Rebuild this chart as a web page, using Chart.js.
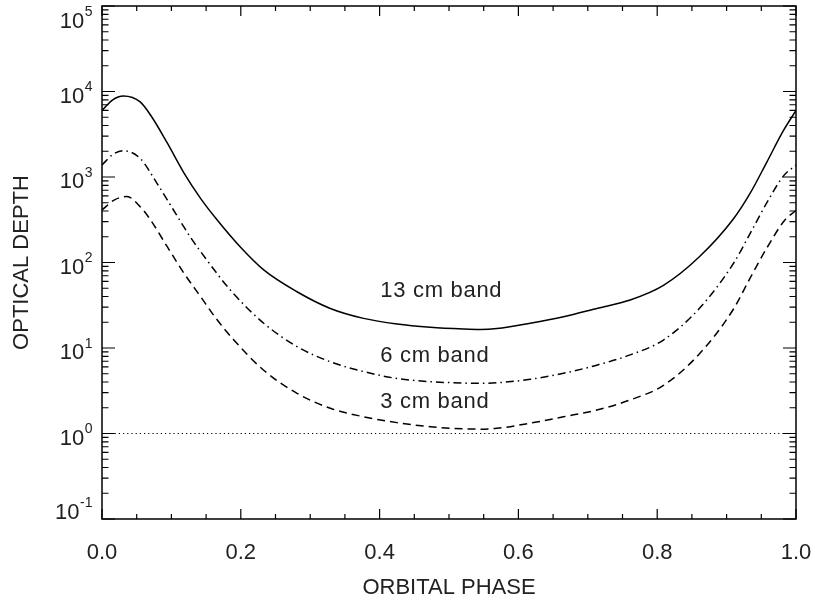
<!DOCTYPE html>
<html><head><meta charset="utf-8">
<script src="https://cdn.jsdelivr.net/npm/chart.js@4.4.1/dist/chart.umd.min.js"></script>
<style>html,body{margin:0;padding:0;background:#fff;}#wrap{width:815px;height:604px;}</style>
</head><body><div id="wrap"><canvas id="c" width="815" height="604"></canvas></div>
<script>
// ---- data ----
const band13Phase = [0, 0.015, 0.031, 0.055, 0.072, 0.094, 0.118, 0.142, 0.166, 0.199, 0.233, 0.281, 0.329, 0.377, 0.425, 0.473, 0.521, 0.545, 0.569, 0.617, 0.665, 0.713, 0.761, 0.809, 0.860, 0.910, 0.934, 0.958, 0.982, 1.0];
const band13 = [6000, 7950, 8850, 7550, 5000, 2500, 1120, 563, 314, 153, 82, 45.5, 29, 22.2, 19.1, 17.5, 16.7, 16.5, 16.9, 19.5, 23.2, 29, 36.4, 54, 115, 325, 647, 1496, 3500, 6000];

const band6Phase = [0, 0.015, 0.031, 0.055, 0.079, 0.103, 0.127, 0.151, 0.185, 0.233, 0.281, 0.329, 0.377, 0.425, 0.473, 0.521, 0.545, 0.569, 0.617, 0.665, 0.713, 0.761, 0.809, 0.860, 0.910, 0.934, 0.958, 0.982, 1.0];
const band6 = [1380, 1820, 2030, 1650, 850, 411, 200, 107, 47.6, 19.5, 10.4, 6.9, 5.3, 4.4, 4.04, 3.89, 3.86, 3.92, 4.3, 5.06, 6.3, 8.3, 12.4, 28.6, 98, 219, 500, 1030, 1380];

const band3Phase = [0, 0.018, 0.036, 0.055, 0.07, 0.094, 0.118, 0.142, 0.163, 0.19, 0.233, 0.281, 0.329, 0.377, 0.425, 0.473, 0.521, 0.545, 0.569, 0.617, 0.665, 0.713, 0.761, 0.809, 0.860, 0.910, 0.934, 0.958, 0.984, 1.0];
const band3 = [411, 540, 590, 450, 314, 153, 75, 40, 22.9, 12.4, 5.5, 2.95, 1.97, 1.57, 1.34, 1.2, 1.135, 1.125, 1.15, 1.32, 1.57, 1.88, 2.47, 3.65, 8.4, 28.6, 66, 148, 314, 405];

const unityPhase = [0, 1];
const unityValue = [1, 1];

const xTickValues = [0, 0.2, 0.4, 0.6, 0.8, 1.0];
const yTickValues = [0.1, 1, 10, 100, 1000, 10000, 100000];

const bandLabels = ['13 cm band', '6 cm band', '3 cm band'];
const bandLabelPhase = [0.401, 0.401, 0.401];
const bandLabelValue = [39.2, 6.92, 1.97];

const xTitle = 'ORBITAL PHASE';
const yTitle = 'OPTICAL DEPTH';

// ---- helpers ----
const FONT = '"Liberation Sans", Arial, Helvetica, sans-serif';
const TEXT = '#222';
const pts = (xs, ys) => xs.map((v, i) => ({x: v, y: ys[i]}));

const framePlugin = {
  id: 'frame',
  afterDatasetsDraw(chart) {
    const {ctx, chartArea: a, scales: {x, y}} = chart;
    ctx.save();
    ctx.strokeStyle = '#000';
    ctx.lineWidth = 1.2;
    ctx.beginPath();
    for (let i = 0; i <= 20; i++) {
      const px = x.getPixelForValue(i * 0.05);
      const L = (i % 4 === 0) ? 10 : 5;
      ctx.moveTo(px, a.bottom); ctx.lineTo(px, a.bottom - L);
      ctx.moveTo(px, a.top); ctx.lineTo(px, a.top + L);
    }
    for (let d = -1; d <= 5; d++) {
      for (let k = 1; k <= 9; k++) {
        const v = k * Math.pow(10, d);
        if (v > 100000 * 1.0001) break;
        const py = y.getPixelForValue(v);
        const L = (k === 1) ? 13 : 6.5;
        ctx.moveTo(a.left, py); ctx.lineTo(a.left + L, py);
        ctx.moveTo(a.right, py); ctx.lineTo(a.right - L, py);
      }
    }
    ctx.stroke();
    ctx.lineWidth = 1.5;
    ctx.strokeRect(a.left, a.top, a.right - a.left, a.bottom - a.top);

    // y tick labels: 10 with raised exponent
    ctx.fillStyle = TEXT;
    ctx.textAlign = 'left';
    ctx.textBaseline = 'alphabetic';
    yTickValues.forEach((v, i) => {
      const exp = String(Math.round(Math.log10(v)));
      let off = 3.5;
      if (i === 0) off = -8;
      if (i === yTickValues.length - 1) off = 14;
      const base = y.getPixelForValue(v) + off + 7.9;
      ctx.font = '22px ' + FONT;
      const wb = ctx.measureText('10').width;
      ctx.font = '14px ' + FONT;
      const we = ctx.measureText(exp).width;
      const x0 = a.left - 9.5 - we - wb - 0.5;
      ctx.font = '22px ' + FONT;
      ctx.fillText('10', x0, base);
      ctx.font = '14px ' + FONT;
      ctx.fillText(exp, x0 + wb + 0.5, base - 11.75);
    });

    // band labels
    ctx.font = '22px ' + FONT;
    try { ctx.letterSpacing = '0.7px'; } catch (e) {}
    bandLabels.forEach((t, i) => {
      ctx.fillText(t, x.getPixelForValue(bandLabelPhase[i]), y.getPixelForValue(bandLabelValue[i]));
    });
    ctx.restore();
  }
};

const lineBase = {pointRadius: 0, borderColor: '#000', fill: false, cubicInterpolationMode: 'monotone', borderCapStyle: 'butt'};

new Chart(document.getElementById('c'), {
  type: 'line',
  data: {
    datasets: [
      Object.assign({label: '13 cm band', data: pts(band13Phase, band13), borderWidth: 1.5}, lineBase),
      Object.assign({label: '6 cm band', data: pts(band6Phase, band6), borderWidth: 1.5, borderDash: [8, 4, 1.5, 4]}, lineBase),
      Object.assign({label: '3 cm band', data: pts(band3Phase, band3), borderWidth: 1.5, borderDash: [8, 5]}, lineBase),
      {label: 'unity', data: pts(unityPhase, unityValue), borderWidth: 1, borderDash: [1.2, 3], pointRadius: 0, borderColor: '#000', fill: false}
    ]
  },
  options: {
    responsive: false,
    animation: false,
    devicePixelRatio: 1,
    layout: {padding: {top: 6, right: 19, bottom: 0, left: 0}},
    plugins: {legend: {display: false}, tooltip: {enabled: false}},
    scales: {
      x: {
        type: 'linear', min: 0, max: 1,
        afterFit: s => { s.height = 85; s.paddingLeft = 0; s.paddingRight = 0; },
        afterBuildTicks: s => { s.ticks = xTickValues.map(v => ({value: v})); },
        grid: {display: false, drawTicks: false},
        border: {display: false},
        ticks: {padding: 21, color: TEXT, font: {size: 22, family: FONT}, callback: v => Number(v).toFixed(1), maxRotation: 0, autoSkip: false},
        title: {display: true, text: xTitle, color: TEXT, font: {size: 22, family: FONT}, padding: {top: 0, bottom: 3}}
      },
      y: {
        type: 'logarithmic', min: 0.1, max: 100000,
        afterFit: s => { s.width = 102; s.paddingTop = 0; s.paddingBottom = 0; },
        afterBuildTicks: s => { s.ticks = yTickValues.map(v => ({value: v, major: true})); },
        grid: {display: false, drawTicks: false},
        border: {display: false},
        ticks: {display: false},
        title: {display: true, text: yTitle, color: TEXT, font: {size: 22, family: FONT}, padding: {top: 9, bottom: 0}}
      }
    }
  },
  plugins: [framePlugin]
});
</script>
</body></html>
